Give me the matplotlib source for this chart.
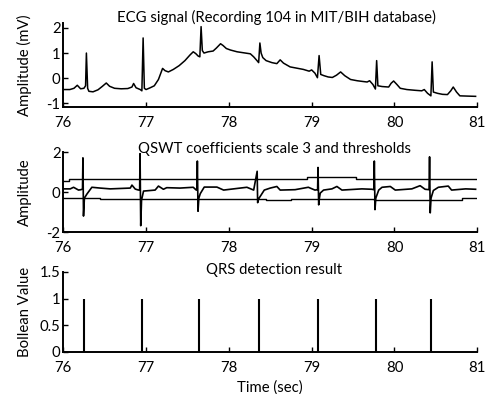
import numpy as np
import matplotlib
matplotlib.use("Agg")
import matplotlib.pyplot as plt

plt.rcParams['font.family'] = ['Lato', 'DejaVu Sans']

# ECG signal (time in sec, amplitude in mV)
ecg_t = [76.00, 76.08, 76.13, 76.17, 76.21, 76.25, 76.27, 76.28, 76.295, 76.31,
         76.36, 76.42, 76.47, 76.52, 76.56, 76.62, 76.70, 76.78, 76.83, 76.85,
         76.88, 76.93, 76.95, 76.965, 76.98, 77.00, 77.05, 77.10, 77.15, 77.20,
         77.23, 77.27, 77.33, 77.40, 77.47, 77.53, 77.57, 77.60, 77.63, 77.65,
         77.665, 77.68, 77.70, 77.75, 77.81, 77.85, 77.90, 77.93, 77.97, 78.02,
         78.10, 78.20, 78.26, 78.30, 78.34, 78.36, 78.375, 78.39, 78.41, 78.45,
         78.52, 78.58, 78.62, 78.66, 78.74, 78.82, 78.90, 78.97, 79.00, 79.04,
         79.07, 79.09, 79.11, 79.15, 79.20, 79.25, 79.30, 79.35, 79.40, 79.47,
         79.55, 79.62, 79.67, 79.70, 79.74, 79.77, 79.785, 79.80, 79.85, 79.93,
         79.96, 79.99, 80.03, 80.07, 80.15, 80.25, 80.33, 80.36, 80.40, 80.44,
         80.455, 80.47, 80.52, 80.58, 80.64, 80.68, 80.71, 80.75, 80.79, 80.88,
         80.98]
ecg_v = [-0.45, -0.45, -0.40, -0.28, -0.42, -0.40, -0.30, 1.00, -0.40, -0.52,
         -0.54, -0.46, -0.33, -0.19, -0.32, -0.40, -0.42, -0.41, -0.35, -0.21,
         -0.38, -0.45, -0.50, 1.60, -0.40, -0.45, -0.38, -0.30, -0.05, 0.39,
         0.30, 0.25, 0.35, 0.50, 0.70, 0.92, 1.05, 0.98, 0.88, 0.85,
         2.05, 1.10, 1.00, 1.05, 1.08, 1.20, 1.37, 1.30, 1.18, 1.12,
         1.05, 1.00, 0.97, 0.85, 0.70, 0.62, 1.40, 1.00, 0.82, 0.70,
         0.62, 0.58, 0.73, 0.60, 0.45, 0.40, 0.35, 0.28, 0.33, 0.20,
         0.02, 0.90, 0.15, 0.10, 0.05, 0.03, 0.12, 0.25, 0.10, -0.05,
         -0.10, -0.13, -0.15, -0.10, -0.25, -0.43, 0.70, -0.30, -0.33, -0.35,
         -0.20, -0.11, -0.25, -0.40, -0.45, -0.48, -0.50, -0.45, -0.60, -0.70,
         0.65, -0.55, -0.60, -0.64, -0.65, -0.50, -0.35, -0.55, -0.70, -0.71,
         -0.72]

# QSWT coefficients at scale 3
qswt_t = [76.004, 76.085, 76.125, 76.185, 76.214, 76.233, 76.238, 76.245, 76.256,
          76.286, 76.346, 76.447, 76.568, 76.689, 76.81, 76.83, 76.87, 76.91, 76.923,
          76.928, 76.936, 76.946, 76.97, 77.11, 77.15, 77.21, 77.25, 77.41, 77.57,
          77.607, 77.615, 77.62, 77.628, 77.638, 77.655, 77.703, 77.856, 77.937, 78.057,
          78.218, 78.30, 78.342, 78.348, 78.356, 78.366, 78.428, 78.50, 78.58, 78.62,
          78.80, 78.96, 79.04, 79.072, 79.077, 79.085, 79.094, 79.104, 79.144, 79.245,
          79.305, 79.366, 79.607, 79.728, 79.752, 79.757, 79.765, 79.775, 79.81, 79.85,
          79.95, 80.01, 80.21, 80.31, 80.37, 80.418, 80.424, 80.432, 80.442, 80.47,
          80.53, 80.65, 80.69, 80.86, 80.98]
qswt_v = [0.16, 0.16, 0.24, 0.10, 0.12, 0.15, 1.71, -1.20, -0.30,
          -0.10, 0.24, 0.20, 0.16, 0.18, 0.20, 0.35, 0.15, 0.10, 0.12,
          1.92, -1.68, -0.40, 0.05, 0.10, 0.30, 0.14, 0.22, 0.20, 0.24,
          0.10, 0.12, 1.55, -0.96, -0.30, -0.08, 0.25, 0.25, 0.10, 0.16,
          0.24, 0.10, 1.04, -0.53, -0.40, -0.30, 0.10, 0.20, 0.28, 0.10,
          0.12, 0.24, 0.10, 0.12, 1.23, -0.64, -0.30, -0.05, 0.10, 0.16,
          0.28, 0.10, 0.16, 0.14, 0.12, 1.55, -0.88, -0.30, 0.10, 0.24,
          0.28, 0.10, 0.16, 0.32, 0.14, 0.12, 1.76, -1.04, -0.30, 0.08,
          0.24, 0.30, 0.10, 0.16, 0.14]

# adaptive thresholds (step lines)
thr_hi_t = [76.00, 76.07, 76.07, 78.95, 78.95, 79.53, 79.53, 81.00]
thr_hi_v = [0.55, 0.55, 0.63, 0.63, 0.75, 0.75, 0.63, 0.63]
thr_lo_t = [76.00, 76.45, 76.45, 78.45, 78.45, 78.75, 78.75, 79.75, 79.75, 80.82, 80.82, 81.00]
thr_lo_v = [-0.28, -0.28, -0.34, -0.34, -0.42, -0.42, -0.34, -0.34, -0.38, -0.38, -0.28, -0.28]

# detected R peaks
qrs_t = [76.25, 76.95, 77.64, 78.36, 79.08, 79.78, 80.44]
qrs_v = [1, 1, 1, 1, 1, 1, 1]

xticks = [76, 77, 78, 79, 80, 81]

fig = plt.figure(figsize=(4.9, 3.94), dpi=100)
fs = 10.7

def style(ax, ylim, yticks, ylabel):
    ax.set_xlim(76, 81)
    ax.set_ylim(*ylim)
    ax.set_xticks(xticks)
    ax.set_yticks(yticks)
    for s in ['top', 'right']:
        ax.spines[s].set_visible(False)
    for s in ['left', 'bottom']:
        ax.spines[s].set_linewidth(1.4)
    ax.tick_params(direction='in', length=3.5, width=1, labelsize=fs)
    ax.tick_params(axis='x', pad=6.5)
    ax.tick_params(axis='y', pad=2)
    ax.set_ylabel(ylabel, fontsize=fs)
    ax.yaxis.set_label_coords(-0.075, 0.5)

ax1 = fig.add_axes([0.129, 0.728, 0.845, 0.214])
ax1.plot(ecg_t, ecg_v, color='black', lw=1.1)
style(ax1, (-1.15, 2.2), [-1, 0, 1, 2], 'Amplitude (mV)')
ax1.set_yticklabels(['-1', '0', '1', '2'])
ax1.set_title('ECG signal (Recording 104 in MIT/BIH database)', fontsize=fs,
              x=0.515, y=1.0, pad=0.8)

ax2 = fig.add_axes([0.129, 0.411, 0.845, 0.203])
ax2.plot(thr_hi_t, thr_hi_v, color='black', lw=1.0)
ax2.plot(thr_lo_t, thr_lo_v, color='black', lw=1.0)
ax2.plot(qswt_t, qswt_v, color='black', lw=1.2)
style(ax2, (-2, 2), [-2, 0, 2], 'Amplitude')
ax2.set_yticklabels(['-2', '0', '2'])
ax2.set_title('QSWT coefficients scale 3 and thresholds', fontsize=fs,
              x=0.51, y=1.0, pad=-0.8)

ax3 = fig.add_axes([0.129, 0.107, 0.845, 0.203])
ax3.vlines(qrs_t, 0, qrs_v, color='black', lw=1.5)
style(ax3, (0, 1.5), [0, 0.5, 1, 1.5], 'Bollean Value')
ax3.set_yticklabels(['0', '0.5', '1', '1.5'])
ax3.set_xlabel('Time (sec)', fontsize=fs, labelpad=4)
ax3.set_title('QRS detection result', fontsize=fs, x=0.51, y=1.0, pad=-1.5)

fig.savefig('out.png', dpi=100)
